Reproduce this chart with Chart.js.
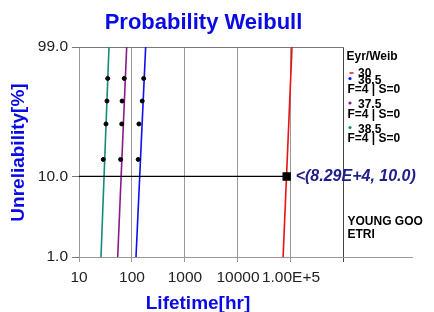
<!DOCTYPE html>
<html>
<head>
<meta charset="utf-8">
<script src="https://cdn.jsdelivr.net/npm/chart.js@4.4.1/dist/chart.umd.min.js"></script>
<style>
  body { margin: 0; background: #fff; }
  canvas { display: block; }
</style>
</head>
<body>
<canvas id="myChart" width="434" height="312"></canvas>
<script>
// axis ticks
const yTicks = [1, 10, 99];
const xTicks = [10, 100, 1000, 10000, 100000, 1000000];
const xTickLabels = ['10', '100', '1000', '10000', '1.00E+5', ''];
const xMin = 10;
const xMax = 1.92e7;

// median ranks [%] for 4 failures
const rankPct = [15.9, 38.6, 61.4, 84.1];
const times365 = [131, 135, 156, 166];
const times375 = [61, 64, 65, 71.5];
const times385 = [28.7, 32.3, 33.7, 34.8];

// fitted lines (time at 1% and 99%)
const fitPct = [1, 99];
const fit30 = [71000, 104500];
const fit365 = [119, 181];
const fit375 = [53.7, 79.4];
const fit385 = [26.0, 36.8];

// estimate shown with the label
const estPoint = [82900, 10];

const seriesNames = ['30', '36.5', '37.5', '38.5'];
const seriesColors = ['#ee1111', '#1010f0', '#8a1a8a', '#158a80'];
const legendTitle = 'Eyr/Weib';
const legendSub = 'F=4 | S=0';
const noteLines = ['YOUNG GOO', 'ETRI'];

const FONT = "Arial, 'Liberation Sans', sans-serif";
Chart.defaults.font.family = FONT;

// Weibull probability axis: ln(-ln(1-F))
const wb = p => Math.log(-Math.log(1 - p / 100));

class WeibullScale extends Chart.Scale {
    static id = 'weibull';
    static defaults = {};
    determineDataLimits() {
        this.min = this.options.min;
        this.max = this.options.max;
    }
    buildTicks() {
        return yTicks.map(v => ({ value: v }));
    }
    getLabelForValue(v) {
        return v.toFixed(1);
    }
    configure() {
        super.configure();
        this._w0 = wb(this.min);
        this._wr = wb(this.max) - this._w0;
    }
    getPixelForValue(v) {
        return this.getPixelForDecimal((wb(v) - this._w0) / this._wr);
    }
    getValueForPixel(px) {
        const w = this._w0 + this.getDecimalForPixel(px) * this._wr;
        return 100 * (1 - Math.exp(-Math.exp(w)));
    }
}
Chart.register(WeibullScale);

const pts = (xs, ys) => xs.map((v, i) => ({ x: v, y: ys[i] }));

const pointSet = (times, color) => ({
    data: pts(times, rankPct),
    showLine: false,
    pointRadius: 2,
    pointBackgroundColor: '#000',
    pointBorderColor: '#000',
    borderColor: color
});

const lineSet = (fit, color) => ({
    data: pts(fit, fitPct),
    showLine: true,
    pointRadius: 0,
    borderColor: color,
    borderWidth: 1.6
});

const decor = {
    id: 'decor',
    beforeDatasetsDraw(chart) {
        const { ctx, scales: { x, y } } = chart;
        ctx.save();
        ctx.strokeStyle = '#777';
        ctx.lineWidth = 1;
        ctx.beginPath();
        const top = Math.round(y.getPixelForValue(yTicks[yTicks.length - 1])) + 0.5;
        ctx.moveTo(x.left, top);
        ctx.lineTo(x.getPixelForValue(xTicks[xTicks.length - 1]), top);
        ctx.stroke();
        ctx.restore();
    },
    afterDraw(chart) {
        const { ctx, scales: { x, y } } = chart;
        ctx.save();

        // title + axis titles
        ctx.fillStyle = '#0a0ae6';
        ctx.textAlign = 'center';
        ctx.textBaseline = 'alphabetic';
        ctx.font = 'bold 22px ' + FONT;
        ctx.fillText('Probability Weibull', 203.5, 28.5);
        ctx.font = 'bold 19px ' + FONT;
        ctx.fillText('Lifetime[hr]', 198, 308.5);
        ctx.save();
        ctx.translate(24, 152.5);
        ctx.rotate(-Math.PI / 2);
        ctx.fillText('Unreliability[%]', 0, 0);
        ctx.restore();

        // estimate label
        ctx.fillStyle = '#20208c';
        ctx.textAlign = 'left';
        ctx.textBaseline = 'middle';
        ctx.font = 'italic bold 16px ' + FONT;
        const ex = x.getPixelForValue(estPoint[0]);
        const ey = y.getPixelForValue(estPoint[1]);
        ctx.fillText('<(' + (estPoint[0] / 1e4).toFixed(2) + 'E+4, ' + estPoint[1].toFixed(1) + ')', ex + 9, ey);

        // legend
        const lx = x.getPixelForValue(xTicks[xTicks.length - 1]) + 2.5;
        ctx.fillStyle = '#000';
        ctx.font = 'bold 12px ' + FONT;
        ctx.fillText(legendTitle, lx, 56.5);

        ctx.strokeStyle = seriesColors[0];
        ctx.lineWidth = 1.5;
        ctx.beginPath();
        ctx.moveTo(lx + 3, 73);
        ctx.lineTo(lx + 7, 73);
        ctx.stroke();
        ctx.fillText(seriesNames[0], lx + 11.5, 73.5);

        for (let i = 1; i < seriesNames.length; i++) {
            const by = 80.5 + (i - 1) * 24.5;
            ctx.fillStyle = seriesColors[i];
            ctx.beginPath();
            ctx.arc(lx + 3.5, by - 2, 1.6, 0, Math.PI * 2);
            ctx.fill();
            ctx.fillStyle = '#000';
            ctx.fillText(seriesNames[i], lx + 11.5, by);
            ctx.fillText(legendSub, lx + 1, by + 9.5);
        }

        noteLines.forEach((t, i) => ctx.fillText(t, lx + 1, 221.5 + i * 13.5));
        ctx.restore();
    }
};

const config = {
    type: 'line',
    data: {
        datasets: [
            pointSet(times365, seriesColors[1]),
            pointSet(times375, seriesColors[2]),
            pointSet(times385, seriesColors[3]),
            {
                data: [{ x: xMin, y: estPoint[1] }, { x: estPoint[0], y: estPoint[1] }],
                showLine: true,
                borderColor: '#000',
                borderWidth: 1.3,
                pointStyle: 'rect',
                pointRadius: c => c.dataIndex === 1 ? 5 : 0,
                pointBackgroundColor: '#000',
                pointBorderColor: '#000'
            },
            lineSet(fit30, seriesColors[0]),
            lineSet(fit365, seriesColors[1]),
            lineSet(fit375, seriesColors[2]),
            lineSet(fit385, seriesColors[3])
        ]
    },
    options: {
        responsive: false,
        animation: false,
        layout: { padding: { top: 47, right: 22, bottom: 0, left: 0 } },
        plugins: {
            legend: { display: false },
            title: { display: false },
            tooltip: { enabled: false }
        },
        scales: {
            x: {
                type: 'logarithmic',
                min: xMin,
                max: xMax,
                afterBuildTicks: s => { s.ticks = xTicks.map(v => ({ value: v })); },
                afterFit: s => { s.height = 55; },
                border: { display: true, color: '#999', width: 1 },
                grid: {
                    color: c => c.tick && c.tick.value === xTicks[xTicks.length - 1] ? '#444' : '#999',
                    tickLength: 5,
                    lineWidth: 1
                },
                ticks: {
                    autoSkip: false,
                    maxRotation: 0,
                    padding: 6,
                    color: '#222',
                    font: { size: 15.5 },
                    callback: v => xTickLabels[xTicks.indexOf(v)] ?? ''
                }
            },
            y: {
                type: 'weibull',
                min: yTicks[0],
                max: yTicks[yTicks.length - 1],
                afterFit: s => { s.width = 79; },
                border: { display: true, color: '#999', width: 1 },
                grid: {
                    drawOnChartArea: false,
                    tickLength: 7,
                    color: '#777'
                },
                ticks: {
                    padding: 4,
                    color: '#222',
                    font: { size: 15.5 },
                    callback: v => v.toFixed(1)
                }
            }
        }
    },
    plugins: [decor]
};

new Chart(document.getElementById('myChart'), config);
</script>
</body>
</html>
